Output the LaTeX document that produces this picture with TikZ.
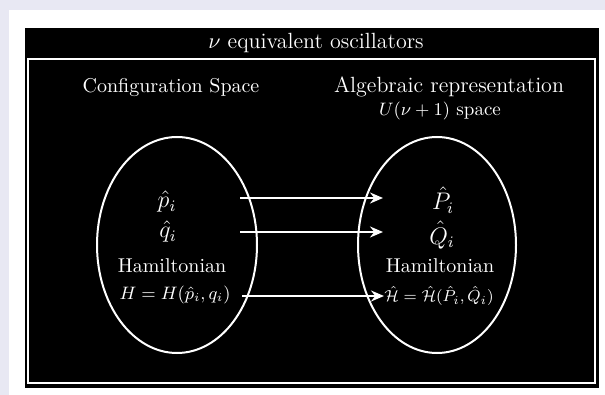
\documentclass[tikz,border=0pt]{standalone}
\usetikzlibrary{arrows.meta}
\definecolor{lav}{RGB}{232,232,243}
\begin{document}
\begin{tikzpicture}[x=0.5pt,y=-0.5pt,
  txt/.style={text=white,inner sep=0pt,font=\fontsize{10}{12}\selectfont},
  mth/.style={text=white,inner sep=0pt,font=\fontsize{11.5}{13}\selectfont},
  oval/.style={draw=white,line width=1pt},
  maparrow/.style={draw=white,line width=0.8pt,-{Stealth[length=6.5pt,width=5.5pt]}}]
\fill[lav] (0,0) rectangle (605,395);
\useasboundingbox (0,0) rectangle (605,395);
\fill[white] (8.5,10) rectangle (605,395);
\fill[black] (25,28) rectangle (599,388);
\draw[white,line width=1pt] (27.5,59) rectangle (595,383);
\node[txt,font=\fontsize{11}{13}\selectfont] (title) at (316,43) {$\nu$ equivalent oscillators};
\node[txt] (conf) at (171,88) {Configuration Space};
\node[txt,font=\fontsize{11}{13}\selectfont] (alg) at (449,87) {Algebraic representation};
\node[txt,font=\fontsize{9.5}{11}\selectfont] (uspace) at (440,111) {$U(\nu+1)$ space};
\draw[oval] (177,245) ellipse [x radius=80, y radius=108];
\draw[oval] (437,245) ellipse [x radius=79, y radius=108];
\node[mth] (p) at (167,202) {$\hat{p}_i$};
\node[mth] (q) at (168,232) {$\hat{q}_i$};
\node[txt] (hl) at (172,266) {Hamiltonian};
\node[txt,font=\fontsize{8.6}{10}\selectfont] (hleq) at (175,295) {$H=H(\hat{p}_i,q_i)$};
\node[mth,font=\fontsize{12}{14}\selectfont] (P) at (443,200) {$\hat{P}_i$};
\node[mth,font=\fontsize{12}{14}\selectfont] (Q) at (442,235) {$\hat{Q}_i$};
\node[txt] (hr) at (440,266) {Hamiltonian};
\node[txt,font=\fontsize{8.4}{10}\selectfont] (hreq) at (439,296) {$\hat{\mathcal{H}}=\hat{\mathcal{H}}(\hat{P}_i,\hat{Q}_i)$};
\coordinate (a1) at (240,198); \coordinate (b1) at (383,198);
\coordinate (a2) at (240,232); \coordinate (b2) at (383,232);
\coordinate (a3) at (242,296); \coordinate (b3) at (384,296);
\draw[maparrow] (a1) -- (b1);
\draw[maparrow] (a2) -- (b2);
\draw[maparrow] (a3) -- (b3);
\end{tikzpicture}
\end{document}
